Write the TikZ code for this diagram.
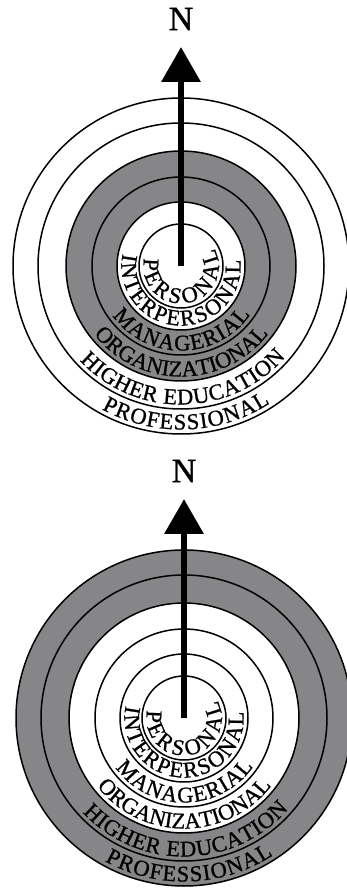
\documentclass[tikz,border=0pt]{standalone}
\usepackage{fontspec}
\setmainfont{Liberation Serif}
\newfontfamily\heavyserif{Liberation Serif}[FakeBold=0.9]
\usetikzlibrary{arrows.meta,decorations.text}

\begin{document}
\begin{tikzpicture}[x=1pt,y=1pt,>={Triangle[length=35pt,width=38pt]},
  ring/.style={line width=1.5pt},
  band/.style={fill=ringgray,even odd rule},
  pointer/.style={->,line width=6.5pt},
  compass/.style={font=\heavyserif\fontsize{34}{34}\selectfont}]
\definecolor{ringgray}{RGB}{134,134,136}

\newcommand{\ringfont}{\heavyserif\fontsize{22.5}{22.5}\selectfont}
\newcommand{\ringtext}[4]{
  \path[decorate,decoration={text along path,text align=fit to path,
    text={|\ringfont|#4}}]
    (#2:#1) arc[start angle=#2,end angle=#3,radius=#1];
}
\newcommand{\target}[2]{
  \fill[band] (0,0) circle (#1) (0,0) circle (#2);
  \foreach \r in {42,64,89,115,143,168}
    \draw[ring] (0,0) circle (\r);
  \ringtext{37.5}{168}{388}{PERSONAL}
  \ringtext{59.5}{168}{366}{INTERPERSONAL}
  \ringtext{84.5}{216}{325}{MANAGERIAL}
  \ringtext{110.5}{218}{321}{ORGANIZATIONAL}
  \ringtext{138.5}{223}{319}{HIGHER EDUCATION}
  \ringtext{163.5}{241}{303}{PROFESSIONAL}
}

\useasboundingbox (0,0) rectangle (347,888);

% Upper target: the two middle rings are shaded.
\begin{scope}[shift={(181,622)}]
  \target{115}{64}
  \coordinate (hub1) at (0,0);
  \coordinate (tip1) at (0,219);
  \draw[pointer] (hub1) -- (tip1);
  \node[compass] (north1) at (0,247) {N};
\end{scope}

% Lower target: the two outer rings are shaded.
\begin{scope}[shift={(184,170)}]
  \target{168}{115}
  \coordinate (hub2) at (0,0);
  \coordinate (tip2) at (0,219);
  \draw[pointer] (hub2) -- (tip2);
  \node[compass] (north2) at (0,247) {N};
\end{scope}
\end{tikzpicture}
\end{document}
